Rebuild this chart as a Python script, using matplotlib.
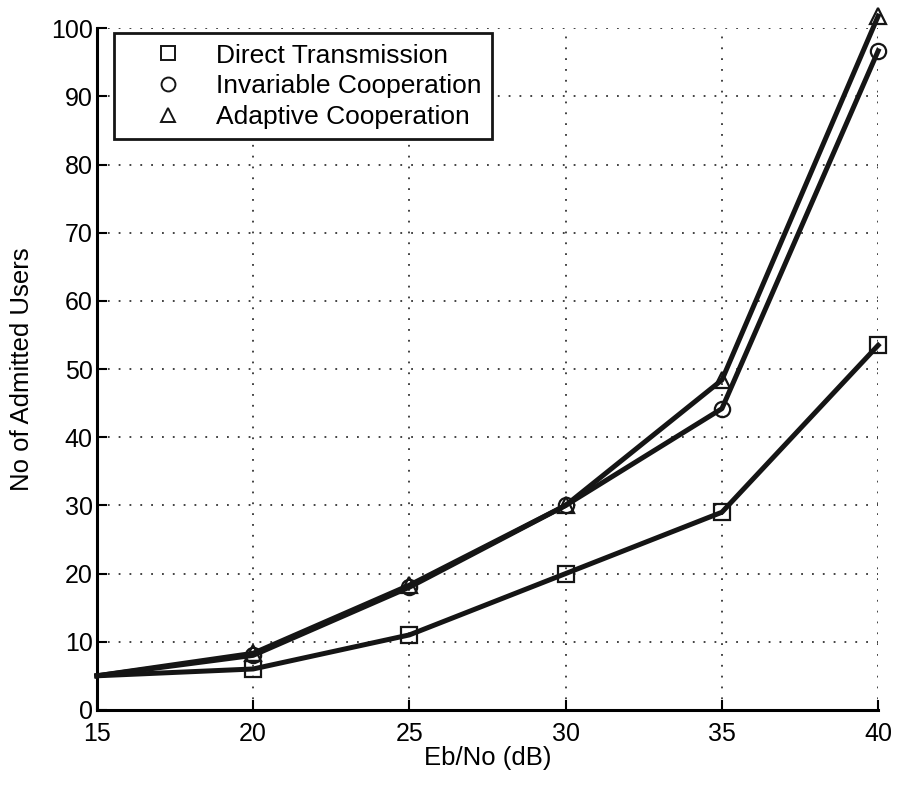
import numpy as np
import matplotlib.pyplot as plt
from matplotlib.lines import Line2D

plt.rcParams['font.family'] = ['Liberation Sans', 'DejaVu Sans']

# data
ebno = [15, 20, 25, 30, 35, 40]
direct = [5, 6, 11, 20, 29, 53.5]
invariable = [5, 8, 18, 30, 44.2, 96.7]
adaptive = [5, 8.3, 18.3, 30, 48.4, 101.8]
labels = ['Direct Transmission', 'Invariable Cooperation', 'Adaptive Cooperation']
markers = ['s', 'o', '^']

fig = plt.figure(figsize=(8.97, 7.87), dpi=100)
ax = fig.add_axes([0.108, 0.098, 0.871, 0.866])

ink = '#151515'
for ys, m in zip([direct, invariable, adaptive], markers):
    # first point sits on the axis and shows no marker in the reference
    ax.plot(ebno, ys, color=ink, linewidth=3.6, marker=m, markersize=11,
            markevery=list(range(1, len(ebno))),
            markerfacecolor='none', markeredgecolor=ink, markeredgewidth=1.6,
            clip_on=False, zorder=3)

ax.set_xlim(15, 40)
ax.set_ylim(0, 100)
ax.set_xticks(np.arange(15, 41, 5))
ax.set_yticks(np.arange(0, 101, 10))
ax.tick_params(direction='in', length=7, width=1.5, labelsize=18)
ax.tick_params(axis='x', pad=9)
ax.tick_params(axis='y', pad=3)
ax.grid(True, linestyle=(0, (1, 5)), color='#333333', linewidth=1.3)

for s in ['top', 'right']:
    ax.spines[s].set_visible(False)
for s in ['left', 'bottom']:
    ax.spines[s].set_linewidth(2.2)

ax.set_xlabel('Eb/No (dB)', fontsize=18.5, labelpad=0)
ax.set_ylabel('No of Admitted Users', fontsize=18.5, labelpad=12)

handles = [Line2D([], [], linestyle='none', marker=m, markersize=10,
                  markerfacecolor='none', markeredgecolor=ink, markeredgewidth=1.4)
           for m in markers]
leg = ax.legend(handles, labels, loc='upper left', bbox_to_anchor=(0.022, 0.993),
                borderaxespad=0, fontsize=19, frameon=True, fancybox=False,
                edgecolor=ink, handletextpad=0.15, borderpad=0.4,
                labelspacing=0.25, handlelength=3.3)
leg.get_frame().set_linewidth(2)
leg.get_frame().set_alpha(1)

fig.savefig('out.png', dpi=100)
